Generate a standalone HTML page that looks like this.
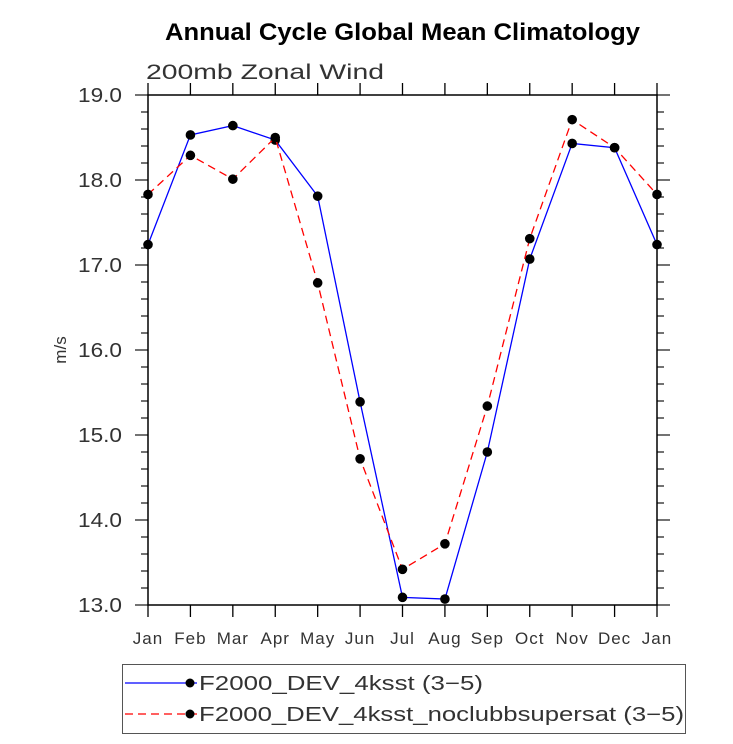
<!DOCTYPE html>
<html><head><meta charset="utf-8"><style>
body{margin:0;background:#fff;width:733px;height:739px;overflow:hidden}
svg text{font-family:"Liberation Sans",sans-serif}
</style></head><body>
<svg id="chart" width="733" height="739" xmlns="http://www.w3.org/2000/svg">
<text x="165" y="40" textLength="475" lengthAdjust="spacingAndGlyphs" font-size="24" font-weight="bold">Annual Cycle Global Mean Climatology</text>
<text x="146" y="79" textLength="238" lengthAdjust="spacingAndGlyphs" font-size="21" fill="#333">200mb Zonal Wind</text>
<text transform="translate(66,350) rotate(-90)" text-anchor="middle" font-size="17" fill="#333">m/s</text>
<g id="axes"></g>
<g id="series"></g>
<g>
<rect x="122.5" y="664.5" width="563" height="69" fill="none" stroke="#555" stroke-width="1"/>
<line x1="125" y1="683" x2="197" y2="683" stroke="#0000ff" stroke-width="1.3"/>
<circle cx="190" cy="683" r="4.5" fill="#000"/>
<text x="199" y="690" textLength="284" lengthAdjust="spacingAndGlyphs" font-size="20" fill="#333">F2000_DEV_4ksst (3−5)</text>
<line x1="125" y1="714" x2="197" y2="714" stroke="#ff0000" stroke-width="1.3" stroke-dasharray="8,5"/>
<circle cx="190" cy="714" r="4.5" fill="#000"/>
<text x="199" y="721" textLength="485" lengthAdjust="spacingAndGlyphs" font-size="20" fill="#333">F2000_DEV_4ksst_noclubbsupersat (3−5)</text>
</g>
</svg>
<script>
const months=["Jan","Feb","Mar","Apr","May","Jun","Jul","Aug","Sep","Oct","Nov","Dec","Jan"];
const blueValues=[17.24,18.53,18.64,18.47,17.81,15.39,13.09,13.07,14.80,17.07,18.43,18.38,17.24];
const redValues=[17.83,18.29,18.01,18.50,16.79,14.72,13.42,13.72,15.34,17.31,18.71,18.38,17.83];
const yTicks=[13.0,14.0,15.0,16.0,17.0,18.0,19.0];
const yMin=13,yMax=19;
const L=148,R=657,T=95,B=605;
const NS="http://www.w3.org/2000/svg";
function xs(i){return L+(R-L)*i/(months.length-1);}
function ys(v){return B-(v-yMin)/(yMax-yMin)*(B-T);}
function mk(tag,attrs,parent){const e=document.createElementNS(NS,tag);for(const k in attrs)e.setAttribute(k,attrs[k]);parent.appendChild(e);return e;}
const ax=document.getElementById('axes');
const frame=mk('rect',{x:L,y:T,width:R-L,height:B-T,fill:'none',stroke:'#000','stroke-width':1.5},ax);


months.forEach((m,i)=>{
  const x=xs(i);
  const t1=mk('line',{x1:x,y1:B,x2:x,y2:B+12,stroke:'#000','stroke-width':1.3},ax);
  
  
  const t2=mk('line',{x1:x,y1:T,x2:x,y2:T-12,stroke:'#000','stroke-width':1.3},ax);
  
  
  const lb=mk('text',{x:x,y:644,'text-anchor':'middle','font-size':17,fill:'#333','letter-spacing':1},ax);
  lb.textContent=m;
  
  
});
for(let v=yMin;v<=yMax+1e-9;v+=0.2){
  const y=ys(v);const major=Math.abs(v-Math.round(v))<1e-6;const len=major?13:7;
  const a=mk('line',{x1:L,y1:y,x2:L-len,y2:y,stroke:'#000','stroke-width':1.1},ax);
  
  
  const b=mk('line',{x1:R,y1:y,x2:R+len,y2:y,stroke:'#000','stroke-width':1.1},ax);
  
  
}
yTicks.forEach(v=>{
  const lb=mk('text',{x:78,y:ys(v)+7,textLength:44,lengthAdjust:'spacingAndGlyphs','font-size':20,fill:'#333'},ax);
  lb.textContent=v.toFixed(1);
  
  
});
const sg=document.getElementById('series');
function drawSeries(vals,color,dash,name){
  const pts=vals.map((v,i)=>xs(i)+','+ys(v)).join(' ');
  const pl=mk('polyline',{points:pts,fill:'none',stroke:color,'stroke-width':1.3},sg);
  if(dash)pl.setAttribute('stroke-dasharray',dash);
  
  
  vals.forEach((v,i)=>{
    const c=mk('circle',{cx:xs(i),cy:ys(v),r:4.8,fill:'#000'},sg);
    
    
  });
}
drawSeries(blueValues,'#0000ff',null,'f2000-dev-4ksst');
drawSeries(redValues,'#ff0000','8,5','f2000-dev-4ksst-noclubbsupersat');
</script>
</body></html>
